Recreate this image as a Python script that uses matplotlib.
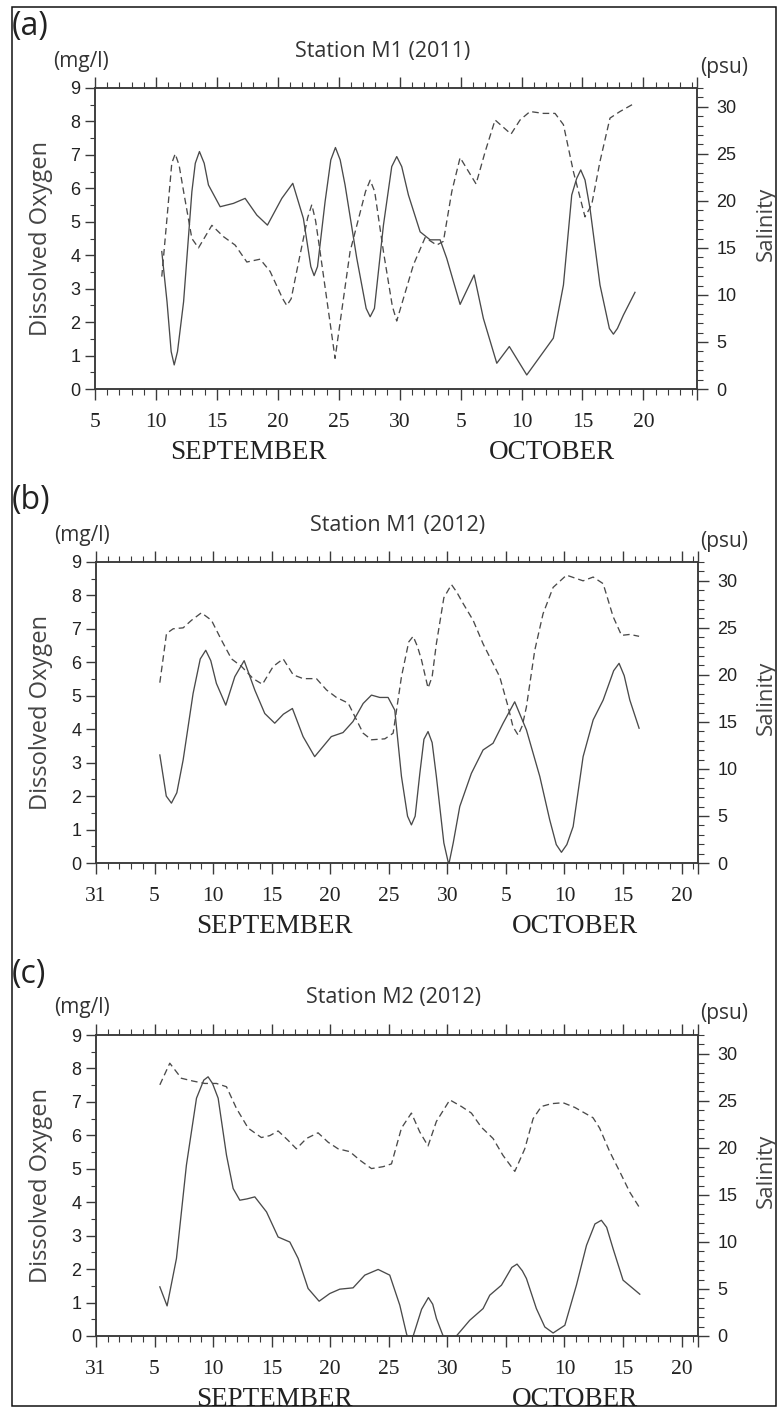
import matplotlib
matplotlib.use("Agg")
import matplotlib.pyplot as plt
from matplotlib.ticker import MultipleLocator
from matplotlib.patches import Rectangle

# ---- data (x = days after the first date of each axis) ----
# (a) Station M1 2011, day 0 = 5 Sep
a_do_day = [5.48, 5.91, 6.25, 6.50, 6.77, 7.27, 7.95, 8.23, 8.57, 8.96, 9.31, 10.27, 11.36,
            12.32, 13.28, 14.15, 15.33, 16.23, 17.10, 17.71, 17.98, 18.26, 18.88, 19.35,
            19.73, 20.12, 20.52, 21.48, 22.25, 22.58, 22.93, 23.67, 24.35, 24.76, 25.17,
            25.72, 26.68, 27.50, 28.32, 28.86, 29.96, 31.11, 31.87, 32.97, 34.00, 35.43,
            36.52, 37.61, 38.44, 39.12, 39.53, 39.86, 40.21, 40.62, 41.44, 42.21, 42.54,
            42.87, 43.36, 44.31]
a_do = [4.11, 2.61, 1.12, 0.72, 1.12, 2.61, 5.90, 6.75, 7.10, 6.75, 6.10, 5.45, 5.55,
        5.70, 5.20, 4.90, 5.70, 6.15, 5.10, 3.66, 3.39, 3.66, 5.60, 6.85,
        7.22, 6.85, 6.10, 3.91, 2.41, 2.16, 2.41, 4.90, 6.65, 6.95, 6.65,
        5.80, 4.70, 4.46, 4.46, 3.91, 2.53, 3.41, 2.11, 0.77, 1.27, 0.42,
        0.97, 1.52, 3.11, 5.80, 6.30, 6.55, 6.25, 5.40, 3.11, 1.81, 1.64,
        1.81, 2.21, 2.89]
a_sal_day = [5.48, 5.91, 6.30, 6.58, 6.90, 7.27, 7.95, 8.49, 9.59, 10.54, 11.50, 12.46,
             13.55, 14.37, 15.40, 15.74, 16.10, 16.55, 17.45, 17.79, 18.10, 18.47, 19.35,
             19.70, 20.05, 20.93, 22.20, 22.58, 22.95, 23.67, 24.40, 24.76, 25.12, 26.13,
             27.09, 28.04, 28.59, 29.28, 29.96, 31.27, 32.01, 32.83, 34.14, 34.88, 35.70,
             36.79, 37.75, 38.44, 39.26, 40.21, 40.76, 41.44, 42.26, 43.08, 44.31]
a_sal = [11.95, 18.2, 24.0, 25.0, 23.8, 21.0, 16.0, 15.0, 17.4, 16.2, 15.3, 13.5,
         13.8, 12.5, 9.6, 8.87, 9.6, 12.5, 18.2, 19.6, 17.9, 14.6, 6.5,
         3.26, 6.5, 14.6, 21.0, 22.2, 21.0, 14.6, 8.8, 7.23, 8.8, 13.2,
         16.1, 15.3, 15.7, 21.0, 24.6, 21.8, 25.2, 28.6, 27.1, 28.6, 29.5,
         29.3, 29.3, 28.1, 23.1, 18.3, 19.6, 24.2, 28.8, 29.5, 30.4]

# (b) Station M1 2012, day 0 = 31 Aug
b_do_day = [5.45, 6.00, 6.44, 6.90, 7.44, 8.29, 8.90, 9.37, 9.80, 10.28, 11.08, 11.85, 12.65,
            13.56, 14.41, 15.26, 16.00, 16.77, 17.68, 18.67, 20.09, 21.09, 21.94, 22.81,
            23.52, 24.23, 24.94, 25.51, 26.08, 26.60, 26.93, 27.25, 27.65, 28.00, 28.35,
            28.70, 29.06, 29.70, 30.12, 30.50, 31.06, 32.05, 33.05, 33.90, 34.76, 35.75,
            36.75, 37.89, 38.74, 39.30, 39.74, 40.20, 40.74, 41.59, 42.45, 43.30, 44.20,
            44.66, 45.10, 45.58, 46.37]
b_do = [3.23, 2.00, 1.79, 2.10, 3.08, 5.07, 6.10, 6.36, 6.05, 5.37, 4.72, 5.57, 6.05,
        5.17, 4.47, 4.18, 4.45, 4.62, 3.78, 3.18, 3.78, 3.90, 4.23, 4.77,
        5.02, 4.95, 4.95, 4.57, 2.59, 1.40, 1.14, 1.40, 2.68, 3.70, 3.93,
        3.60, 2.59, 0.60, -0.05, 0.60, 1.69, 2.68, 3.38, 3.58, 4.18, 4.82,
        3.98, 2.59, 1.29, 0.55, 0.32, 0.55, 1.09, 3.18, 4.28, 4.87, 5.75,
        5.97, 5.60, 4.87, 4.03]
b_sal_day = [5.45, 6.02, 6.59, 7.44, 8.15, 9.00, 9.86, 10.71, 11.57, 12.42, 13.42, 14.21,
             15.13, 15.98, 16.84, 17.69, 18.82, 19.68, 20.53, 21.53, 22.09, 22.81, 23.52,
             24.66, 25.37, 26.08, 26.70, 27.08, 27.45, 27.79, 28.35, 28.70, 29.06, 29.70,
             30.35, 30.80, 31.34, 32.20, 33.05, 33.90, 34.47, 35.19, 35.60, 36.04, 36.40,
             36.75, 37.46, 38.17, 39.03, 40.17, 41.59, 42.45, 43.30, 44.15, 44.87, 45.58,
             46.37]
b_sal = [19.17, 24.4, 24.9, 25.0, 25.8, 26.6, 25.8, 23.7, 21.7, 20.9, 19.6, 19.0,
         20.9, 21.7, 20.0, 19.6, 19.6, 18.4, 17.6, 17.0, 15.6, 13.8, 13.1,
         13.2, 13.8, 19.8, 23.5, 24.1, 23.0, 21.6, 18.6, 19.8, 23.3, 28.2,
         29.6, 28.8, 27.6, 25.8, 23.3, 21.2, 19.8, 16.6, 14.5, 13.6, 14.6,
         16.6, 22.6, 26.5, 29.3, 30.6, 30.0, 30.4, 29.7, 26.2, 24.2, 24.3,
         24.1]

# (c) Station M2 2012, day 0 = 31 Aug
c_do_day = [5.45, 6.07, 6.87, 7.72, 8.58, 9.20, 9.57, 9.95, 10.43, 11.14, 11.71, 12.28, 12.90,
            13.56, 14.56, 15.55, 16.55, 17.26, 18.11, 19.05, 19.96, 20.81, 21.95, 22.95,
            24.09, 25.08, 25.94, 26.51, 26.80, 27.08, 27.80, 28.38, 28.75, 29.07, 29.64,
            30.20, 30.77, 31.91, 33.05, 33.62, 34.62, 35.50, 35.95, 36.40, 36.75, 37.60,
            38.32, 39.03, 40.03, 41.02, 41.88, 42.60, 43.15, 43.60, 44.15, 45.00, 46.43]
c_do = [1.47, 0.90, 2.32, 5.11, 7.11, 7.65, 7.75, 7.55, 7.11, 5.41, 4.41, 4.06, 4.10,
        4.16, 3.71, 2.96, 2.81, 2.32, 1.42, 1.04, 1.27, 1.40, 1.44, 1.82,
        1.99, 1.82, 0.92, 0.07, -0.25, 0.00, 0.80, 1.15, 0.95, 0.52, 0.00,
        -0.30, 0.00, 0.47, 0.82, 1.22, 1.52, 2.05, 2.15, 1.95, 1.72, 0.82,
        0.27, 0.09, 0.32, 1.52, 2.71, 3.35, 3.46, 3.25, 2.61, 1.67, 1.25]
c_sal_day = [5.45, 6.30, 7.29, 8.29, 9.29, 10.28, 11.14, 11.99, 12.99, 14.12, 14.84, 15.55,
             16.40, 17.11, 17.97, 18.96, 19.82, 20.67, 21.67, 22.52, 23.52, 24.51, 25.23,
             26.08, 26.93, 27.64, 28.35, 29.06, 30.21, 31.20, 32.05, 32.90, 33.90, 34.75,
             35.76, 36.61, 37.32, 38.03, 38.89, 39.88, 40.88, 42.44, 43.00, 43.86, 44.71,
             45.57, 46.43]
c_sal = [26.7, 29.0, 27.4, 27.1, 26.85, 26.85, 26.5, 24.2, 22.1, 21.1, 21.3, 21.8,
         20.8, 19.9, 21.0, 21.6, 20.6, 19.9, 19.6, 18.7, 17.8, 18.0, 18.3,
         22.1, 23.7, 21.7, 20.2, 22.8, 25.1, 24.4, 23.7, 22.2, 21.0, 19.2,
         17.5, 19.9, 23.1, 24.4, 24.7, 24.8, 24.3, 23.2, 22.1, 19.6, 17.5,
         15.3, 13.6]

# tick labels
a_xticks = [0, 5, 10, 15, 20, 25, 30, 35, 40, 45]
a_xlabels = ["5", "10", "15", "20", "25", "30", "5", "10", "15", "20"]
bc_xticks = [0, 5, 10, 15, 20, 25, 30, 35, 40, 45, 50]
bc_xlabels = ["31", "5", "10", "15", "20", "25", "30", "5", "10", "15", "20"]

W, H = 777, 1409
fig = plt.figure(figsize=(W / 100, H / 100), dpi=100)

LINE = "#4a4a4a"
AXC = "#3a3a3a"
SANS = "Open Sans"


def px(x, y):
    return x / W, 1 - y / H


def draw_panel(rect, xmax, do_x, do_y, sal_x, sal_y, xticks, xlabels, months_x,
               letter, title, tpos, top, left):
    l, t, r, b = rect
    ax = fig.add_axes([l / W, 1 - b / H, (r - l) / W, (b - t) / H])
    ax2 = ax.twinx()

    ax.plot(do_x, do_y, color=LINE, lw=0.95)
    ax2.plot(sal_x, sal_y, color=LINE, lw=0.95, dashes=(5, 3))

    ax.set_xlim(0, xmax)
    ax.set_ylim(0, 9)
    ax2.set_ylim(0, 32)

    ax.set_xticks(xticks + [xmax], xlabels + [""])
    ax.xaxis.set_minor_locator(MultipleLocator(1))
    ax.yaxis.set_major_locator(MultipleLocator(1))
    ax.yaxis.set_minor_locator(MultipleLocator(0.5))
    ax2.yaxis.set_major_locator(MultipleLocator(5))
    ax2.yaxis.set_minor_locator(MultipleLocator(1))

    for a in (ax, ax2):
        for s in a.spines.values():
            s.set_color(AXC)
            s.set_linewidth(1.1)
    ax.tick_params(axis="x", which="both", top=True, direction="out", color=AXC)
    ax.tick_params(axis="x", which="major", length=8, width=1.0, pad=9)
    ax.tick_params(axis="x", which="minor", length=4, width=0.8)
    ax.tick_params(axis="y", which="major", length=7.5, width=1.0, pad=3, color=AXC)
    ax.tick_params(axis="y", which="minor", length=3.8, width=0.8, color=AXC)
    ax2.tick_params(axis="y", which="major", length=8, width=1.0, pad=6, color=AXC)
    ax2.tick_params(axis="y", which="minor", length=4, width=0.8, color=AXC)

    for lab in ax.get_xticklabels():
        lab.set_fontfamily("Liberation Serif")
        lab.set_fontsize(15.5)
        lab.set_color("#222222")
    for lab in ax.get_yticklabels() + ax2.get_yticklabels():
        lab.set_fontfamily("Liberation Sans")
        lab.set_fontsize(13)
        lab.set_color("#222222")

    # month names under the axis
    for name, mx in zip(["SEPTEMBER", "OCTOBER"], months_x):
        ax.text(mx, -0.21, name, transform=ax.get_xaxis_transform(),
                ha="center", va="center", fontsize=19.5, family="Liberation Serif",
                color="#222222")

    # texts around the panel
    fig.text(*px(12, top - 61), letter, fontsize=23, family=SANS,
             ha="left", va="center", color="#222222")
    fig.text(*px(left - 14, top - 27), "(mg/l)", fontsize=15, family=SANS,
             ha="center", va="center", color="#333333")
    fig.text(*px(tpos, top - 37), title, fontsize=15.5, family=SANS,
             ha="center", va="center", color="#333333")
    fig.text(*px(724, top - 21), "(psu)", fontsize=15, family=SANS,
             ha="center", va="center", color="#333333")
    fig.text(*px(41, (t + b) / 2), "Dissolved Oxygen", fontsize=17, family=SANS,
             rotation=90, ha="center", va="center", color="#444444")
    fig.text(*px(766, (t + b) / 2 - 15), "Salinity", fontsize=16, family=SANS,
             rotation=90, ha="center", va="center", color="#444444")
    return ax


draw_panel((95, 88, 697, 389), 49.4, a_do_day, a_do, a_sal_day, a_sal,
           a_xticks, a_xlabels, [12.6, 37.5], "(a)", "Station M1 (2011)", 383, 88, 95)
draw_panel((96, 562, 698, 863), 51.4, b_do_day, b_do, b_sal_day, b_sal,
           bc_xticks, bc_xlabels, [15.2, 40.9], "(b)", "Station M1 (2012)", 398, 562, 96)
draw_panel((96, 1035, 698, 1336), 51.4, c_do_day, c_do, c_sal_day, c_sal,
           bc_xticks, bc_xlabels, [15.2, 40.9], "(c)", "Station M2 (2012)", 393, 1035, 96)

# outer frame
fig.patches.append(Rectangle(px(12, 1406), (776 - 12) / W, (1406 - 7) / H,
                             transform=fig.transFigure, fill=False,
                             edgecolor="#111111", lw=1.1))

fig.savefig("out.png", dpi=100)
